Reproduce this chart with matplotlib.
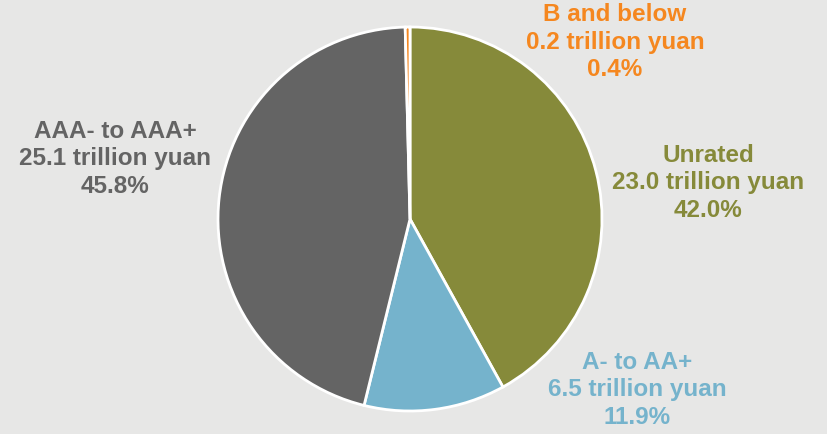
import matplotlib
matplotlib.use("Agg")
import matplotlib.pyplot as plt

categories = ["Unrated", "A- to AA+", "AAA- to AAA+", "B and below"]
amounts = [23.0, 6.5, 25.1, 0.2]
shares = [42.0, 11.9, 45.8, 0.4]
colors = ["#868a3a", "#75b3cc", "#646464", "#f5871f"]

W, H = 828, 435
fig = plt.figure(figsize=(W / 100, H / 100), dpi=100)
fig.patch.set_facecolor("#e7e7e6")
ax = fig.add_axes([0, 0, 1, 1])
ax.set_facecolor("#e7e7e6")

cx, cy, r = 410, H - 220, 192
ax.pie(shares, colors=colors, startangle=90, counterclock=False,
       center=(cx, cy), radius=r, frame=True,
       wedgeprops=dict(edgecolor="white", linewidth=2))
ax.set_xlim(0, W)
ax.set_ylim(0, H)
ax.set_aspect("equal")
ax.axis("off")

label_pos = [(708, 183), (637, 390), (115, 159), (615, 42)]
for cat, amt, sh, col, (x, y) in zip(categories, amounts, shares, colors, label_pos):
    ax.text(x, H - y, f"{cat}\n{amt:.1f} trillion yuan\n{sh:.1f}%",
            ha="center", va="center", color=col, fontsize=17.5,
            fontweight="bold", family="Liberation Sans", linespacing=1.27)

fig.savefig("out.png", dpi=100, facecolor=fig.get_facecolor())
